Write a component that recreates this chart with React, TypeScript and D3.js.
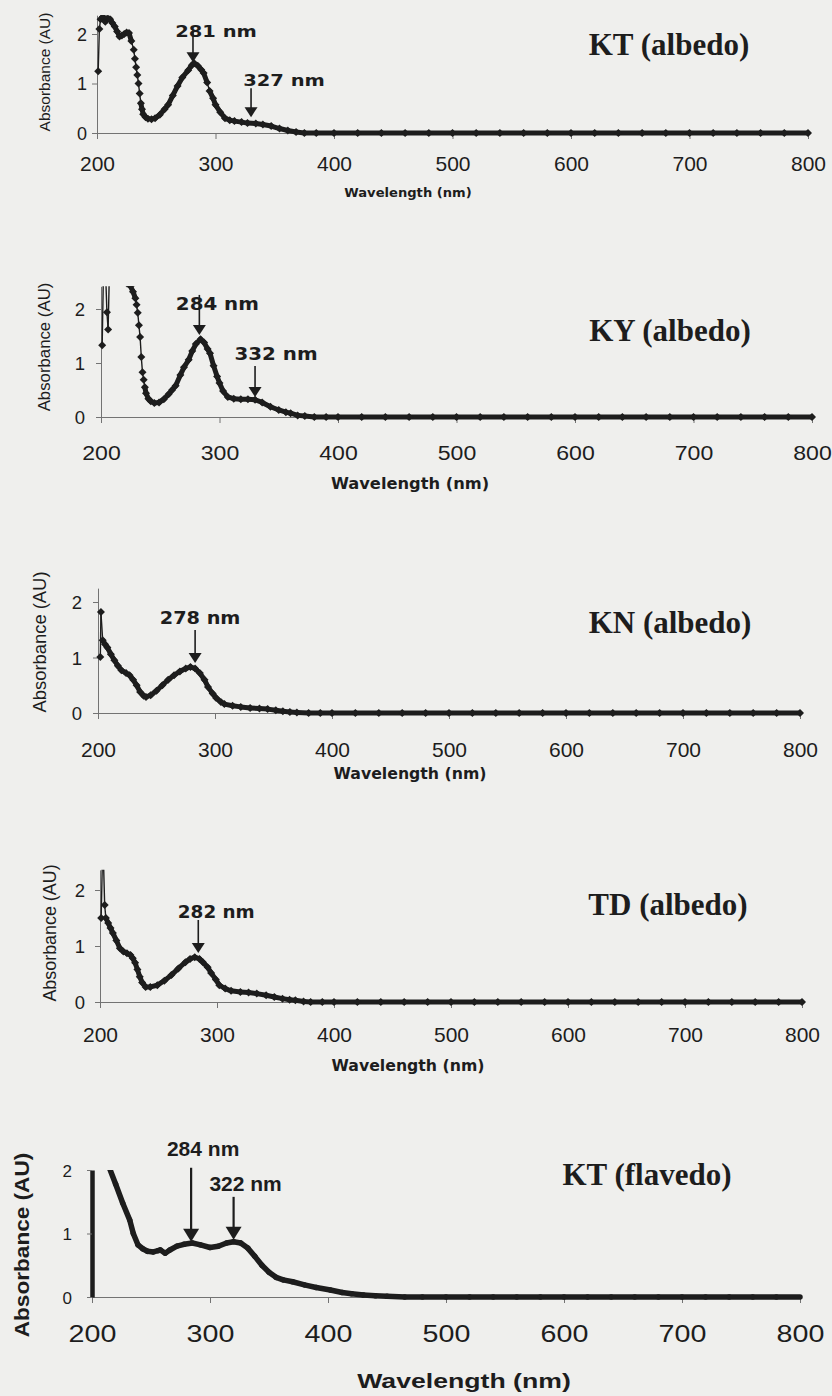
import React, { useEffect, useRef } from 'react';
import * as d3 from 'd3';

type Pt = [number, number];
interface Peak { at: number; label: string; tip: number }

// axis values
const X_TICKS = [200, 300, 400, 500, 600, 700, 800];
const Y_TICKS = [0, 1, 2];

// flat baseline shared by all spectra above ~400 nm
const BASELINE_TAIL: Pt[] = [
  [400, 0], [420, 0], [440, 0], [460, 0], [480, 0], [500, 0], [520, 0], [540, 0], [560, 0], [580, 0],
  [600, 0], [620, 0], [640, 0], [660, 0], [680, 0], [700, 0], [720, 0], [740, 0], [760, 0], [780, 0], [800, 0],
];

// spectra: [wavelength nm, absorbance AU]
const KT_ALBEDO: Pt[] = [
  [201, 1.25], [202, 2.1], [203, 2.3], [205, 2.35], [207, 2.25], [209, 2.32], [211, 2.3], [213, 2.22], [215, 2.15],
  [217, 2.05], [219, 1.95], [221, 1.97], [223, 2.0], [225, 2.03], [227, 2.02], [229, 1.86], [231, 1.68], [232, 1.5],
  [233, 1.33], [234, 1.17], [235, 1.0], [236, 0.8], [237, 0.6], [238, 0.48], [239, 0.38], [241, 0.32], [243, 0.29],
  [246, 0.28], [249, 0.3], [253, 0.37], [257, 0.48], [260, 0.57], [264, 0.76], [268, 0.95], [272, 1.12], [277, 1.27],
  [280, 1.37], [282, 1.41], [285, 1.36], [288, 1.28], [290, 1.21], [293, 1.02], [295, 0.85], [298, 0.7], [300, 0.57],
  [304, 0.42], [308, 0.3], [312, 0.26], [316, 0.24], [322, 0.22], [327, 0.2], [334, 0.19], [340, 0.17], [347, 0.14],
  [354, 0.09], [361, 0.05], [368, 0.02], [375, 0.0], [385, 0.0],
];
const KT_ALBEDO_PEAKS: Peak[] = [
  { at: 281, label: '281 nm', tip: 1.43 },
  { at: 330, label: '327 nm', tip: 0.32 },
];

const KY_ALBEDO: Pt[] = [
  [201, 1.33], [202, 2.6], [204, 2.6], [205, 1.94], [206, 1.62], [207, 2.6], [213, 2.6], [216, 2.55], [219, 2.5],
  [222, 2.47], [225, 2.42], [227, 2.32], [229, 2.2], [230, 2.08], [231, 1.93], [232, 1.7], [233, 1.48], [234, 1.11],
  [235, 0.83], [236, 0.69], [237, 0.55], [238, 0.44], [240, 0.34], [242, 0.29], [245, 0.26], [249, 0.27], [253, 0.33],
  [257, 0.42], [260, 0.5], [263, 0.58], [267, 0.78], [270, 0.92], [274, 1.06], [277, 1.22], [280, 1.35], [284, 1.44],
  [287, 1.38], [290, 1.26], [292, 1.18], [295, 0.95], [298, 0.75], [300, 0.63], [303, 0.48], [307, 0.37], [312, 0.34],
  [318, 0.33], [324, 0.33], [330, 0.32], [336, 0.27], [343, 0.19], [350, 0.13], [356, 0.09], [360, 0.07], [366, 0.03],
  [372, 0.02], [380, 0.0], [390, 0.0],
];
const KY_ALBEDO_PEAKS: Peak[] = [
  { at: 283, label: '284 nm', tip: 1.52 },
  { at: 330, label: '332 nm', tip: 0.37 },
];

const KN_ALBEDO: Pt[] = [
  [202, 1.01], [202.5, 1.82], [204, 1.31], [206, 1.24], [208, 1.18], [211, 1.06], [214, 0.95], [217, 0.85], [220, 0.77],
  [224, 0.72], [227, 0.68], [230, 0.6], [233, 0.5], [236, 0.38], [239, 0.31], [241, 0.29], [245, 0.32], [250, 0.4],
  [255, 0.5], [260, 0.6], [265, 0.68], [270, 0.75], [275, 0.8], [279, 0.83], [283, 0.8], [287, 0.72], [291, 0.6],
  [294, 0.47], [298, 0.35], [301, 0.27], [305, 0.2], [308, 0.16], [315, 0.13], [322, 0.11], [330, 0.09], [338, 0.08],
  [345, 0.07], [352, 0.05], [358, 0.03], [364, 0.02], [370, 0.01], [380, 0.0], [390, 0.0],
];
const KN_ALBEDO_PEAKS: Peak[] = [{ at: 283, label: '278 nm', tip: 0.9 }];

const TD_ALBEDO: Pt[] = [
  [201, 1.5], [202, 2.5], [203, 2.5], [204, 1.73], [205, 1.5], [207, 1.41], [209, 1.32], [211, 1.23], [214, 1.1],
  [217, 0.96], [220, 0.9], [223, 0.87], [226, 0.84], [228, 0.78], [230, 0.7], [232, 0.58], [234, 0.45], [236, 0.35],
  [239, 0.27], [243, 0.27], [249, 0.3], [255, 0.38], [261, 0.48], [267, 0.6], [273, 0.71], [277, 0.77], [281, 0.8],
  [285, 0.77], [288, 0.71], [292, 0.62], [295, 0.52], [299, 0.4], [302, 0.3], [307, 0.24], [312, 0.2], [320, 0.18],
  [327, 0.17], [334, 0.15], [342, 0.12], [349, 0.09], [356, 0.06], [362, 0.04], [367, 0.03], [374, 0.01], [380, 0.0],
  [390, 0.0],
];
const TD_ALBEDO_PEAKS: Peak[] = [{ at: 284, label: '282 nm', tip: 0.875 }];

const KT_FLAVEDO: Pt[] = [
  [215, 2.02], [220, 1.78], [226, 1.48], [232, 1.21], [235, 1.0], [239, 0.82], [243, 0.76], [247, 0.72], [252, 0.71],
  [256, 0.73], [258, 0.74], [262, 0.69], [266, 0.74], [272, 0.8], [278, 0.83], [285, 0.85], [292, 0.82], [300, 0.78],
  [307, 0.8], [314, 0.85], [320, 0.87], [326, 0.85], [332, 0.77], [338, 0.64], [344, 0.5], [350, 0.39], [356, 0.31],
  [362, 0.27], [370, 0.24], [380, 0.19], [390, 0.15], [402, 0.11], [412, 0.07], [420, 0.05], [430, 0.03], [440, 0.02],
  [450, 0.01], [465, 0.0],
];
const KT_FLAVEDO_PEAKS: Peak[] = [
  { at: 284, label: '284 nm', tip: 0.87 },
  { at: 320, label: '322 nm', tip: 0.9 },
];

const INK = '#1d1d1d';
const AXIS = '#737373';
const BG = '#efefed';
const SANS = '"Liberation Sans", Arial, sans-serif';
const WIDE = '"DejaVu Sans", Verdana, sans-serif';
const SERIF = '"Liberation Serif", "Times New Roman", serif';

// page layout of each panel (pixels)
const PANELS = [
  {
    title: 'KT (albedo)', data: KT_ALBEDO, peaks: KT_ALBEDO_PEAKS, markers: true,
    x0: 97, x1: 808, y0: 133, unit: 49.5, yMax: 2.38, yAxisW: 1,
    tick: { size: 20, sx: 1.05, y: 38 }, yTick: { size: 18, x: -10 },
    xLab: { x: 408, y: 197, size: 12.5, sx: 1.05, font: WIDE },
    yLab: { x: 50, y: 72, size: 15.5, sx: 1, weight: 'normal' },
    titlePos: { x: 669, y: 55 },
    annot: { size: 15, sx: 1.3, font: WIDE, hw: 13, hh: 10, sw: 1.6, items: [{ len: 32, dx: 23, dy: -25 }, { len: 29, dx: 33, dy: -31 }] },
  },
  {
    title: 'KY (albedo)', data: KY_ALBEDO, peaks: KY_ALBEDO_PEAKS, markers: true,
    x0: 101, x1: 812, y0: 417, unit: 54, yMax: 2.42, yAxisW: 1,
    tick: { size: 21, sx: 1.1, y: 43 }, yTick: { size: 18.5, x: -16 },
    xLab: { x: 410, y: 489, size: 15.5, sx: 1.05, font: WIDE },
    yLab: { x: 50, y: 347, size: 16.8, sx: 1, weight: 'normal' },
    titlePos: { x: 670, y: 341 },
    annot: { size: 17.4, sx: 1.14, font: WIDE, hw: 13, hh: 10, sw: 1.6, items: [{ len: 40, dx: 18, dy: -25 }, { len: 31, dx: 21, dy: -37 }] },
  },
  {
    title: 'KN (albedo)', data: KN_ALBEDO, peaks: KN_ALBEDO_PEAKS, markers: true,
    x0: 98, x1: 800, y0: 713, unit: 55.5, yMax: 2.25, yAxisW: 1,
    tick: { size: 20, sx: 1.05, y: 44 }, yTick: { size: 18.5, x: -16 },
    xLab: { x: 410, y: 779, size: 15, sx: 1.05, font: WIDE },
    yLab: { x: 46, y: 642, size: 18.4, sx: 1, weight: 'normal' },
    titlePos: { x: 670, y: 633 },
    annot: { size: 18, sx: 1.07, font: WIDE, hw: 13, hh: 10, sw: 1.6, items: [{ len: 33, dx: 5, dy: -39 }] },
  },
  {
    title: 'TD (albedo)', data: TD_ALBEDO, peaks: TD_ALBEDO_PEAKS, markers: true,
    x0: 100, x1: 802, y0: 1002, unit: 56, yMax: 2.36, yAxisW: 1,
    tick: { size: 20, sx: 1.05, y: 40 }, yTick: { size: 18.5, x: -15 },
    xLab: { x: 408, y: 1071, size: 15, sx: 1.05, font: WIDE },
    yLab: { x: 56, y: 933, size: 17.9, sx: 1, weight: 'normal' },
    titlePos: { x: 668, y: 915 },
    annot: { size: 18, sx: 1.02, font: WIDE, hw: 13, hh: 10, sw: 1.6, items: [{ len: 33, dx: 18, dy: -35 }] },
  },
  {
    title: 'KT (flavedo)', data: KT_FLAVEDO, peaks: KT_FLAVEDO_PEAKS, markers: false,
    x0: 92, x1: 800, y0: 1297, unit: 63.5, yMax: 2.0, yAxisW: 4.5,
    tick: { size: 23.7, sx: 1.21, y: 45 }, yTick: { size: 17, x: -20 },
    xLab: { x: 464, y: 1388, size: 20.5, sx: 1.3, font: SANS },
    yLab: { x: 29, y: 1245, size: 20, sx: 1.13, weight: 'bold' },
    titlePos: { x: 647, y: 1185 },
    annot: { size: 21, sx: 1, font: SANS, hw: 16, hh: 13, sw: 2.2, items: [{ len: 74, dx: 12, dy: -86 }, { len: 43, dx: 12, dy: -49 }] },
  },
];

const diamond = (r: number) => `M0,${-r}L${r},0L0,${r}L${-r},0Z`;

export default function App() {
  const svgRef = useRef<SVGSVGElement>(null);

  useEffect(() => {
    if (!svgRef.current) return;
    const svg = d3.select(svgRef.current);
    svg.selectAll('*').remove();

    PANELS.forEach((P, pi) => {
      const g = svg.append('g');
      const x = d3.scaleLinear().domain([200, 800]).range([P.x0, P.x1]);
      const y = d3.scaleLinear().domain([0, P.yMax]).range([P.y0, P.y0 - P.yMax * P.unit]);

      // x axis
      const xa = g.append('g').attr('transform', `translate(0,${P.y0})`)
        .call(d3.axisBottom(x).tickValues(X_TICKS).tickSize(6).tickSizeOuter(0).tickFormat(d3.format('d')));
      xa.select('.domain').attr('stroke', AXIS);
      xa.selectAll('.tick line').attr('stroke', AXIS);
      xa.selectAll('.tick text')
        .attr('y', P.tick.y).attr('dy', null)
        .attr('font-size', P.tick.size).attr('font-family', SANS).attr('fill', INK)
        .attr('transform', `scale(${P.tick.sx},1)`);

      // y axis
      const ya = g.append('g').attr('transform', `translate(${P.x0},0)`)
        .call(d3.axisLeft(y).tickValues(Y_TICKS).tickSize(5).tickSizeOuter(0).tickFormat(d3.format('d')));
      ya.select('.domain').attr('stroke', P.yAxisW > 1 ? INK : AXIS).attr('stroke-width', P.yAxisW);
      ya.selectAll('.tick line').attr('stroke', AXIS);
      ya.selectAll('.tick text')
        .attr('x', P.yTick.x).attr('dy', '0.36em')
        .attr('font-size', P.yTick.size).attr('font-family', SANS).attr('fill', INK);

      // spectrum
      const clipId = `clip-${pi}`;
      svg.append('clipPath').attr('id', clipId).append('rect')
        .attr('x', P.x0 - 8).attr('y', y(P.yMax))
        .attr('width', P.x1 - P.x0 + 16).attr('height', P.y0 - y(P.yMax) + 10);
      const dg = g.append('g').attr('clip-path', `url(#${clipId})`);
      const last = P.data[P.data.length - 1][0];
      const series: Pt[] = P.data.concat(BASELINE_TAIL.filter(d => d[0] > last));
      const thick = P.markers ? 5 : 5.5;
      for (let i = 1; i < series.length; i++) {
        const ax = x(series[i - 1][0]), ay = y(series[i - 1][1]);
        const bx = x(series[i][0]), by = y(series[i][1]);
        const dy = Math.abs(by - ay), dx = Math.abs(bx - ax);
        const steep = P.markers && dy > 6 && dy > 3.5 * dx;
        dg.append('line')
          .attr('x1', ax).attr('y1', ay).attr('x2', bx).attr('y2', by)
          .attr('stroke', INK).attr('stroke-width', steep ? 1.4 : thick)
          .attr('stroke-linecap', 'round');
      }
      if (P.markers) {
        dg.selectAll('path.mk').data(series).join('path')
          .attr('class', 'mk')
          .attr('d', diamond(4))
          .attr('transform', d => `translate(${x(d[0])},${y(d[1])})`)
          .attr('fill', INK);
      }

      // peak arrows
      P.peaks.forEach((pk, k) => {
        const A = P.annot.items[k];
        const px = x(pk.at), ty = y(pk.tip);
        g.append('line')
          .attr('x1', px).attr('x2', px).attr('y1', ty - A.len).attr('y2', ty - P.annot.hh + 1)
          .attr('stroke', INK).attr('stroke-width', P.annot.sw);
        g.append('path')
          .attr('d', `M${px - P.annot.hw / 2},${ty - P.annot.hh}L${px + P.annot.hw / 2},${ty - P.annot.hh}L${px},${ty}Z`)
          .attr('fill', INK);
        g.append('text')
          .attr('transform', `translate(${px + A.dx},${ty + A.dy}) scale(${P.annot.sx},1)`)
          .attr('text-anchor', 'middle').attr('font-family', P.annot.font).attr('font-weight', 'bold')
          .attr('font-size', P.annot.size).attr('fill', INK)
          .text(pk.label);
      });

      // axis titles
      g.append('text')
        .attr('transform', `translate(${P.xLab.x},${P.xLab.y}) scale(${P.xLab.sx},1)`)
        .attr('text-anchor', 'middle').attr('font-family', P.xLab.font).attr('font-weight', 'bold')
        .attr('font-size', P.xLab.size).attr('fill', INK)
        .text('Wavelength (nm)');
      g.append('text')
        .attr('transform', `translate(${P.yLab.x},${P.yLab.y}) rotate(-90) scale(${P.yLab.sx},1)`)
        .attr('text-anchor', 'middle').attr('font-family', SANS).attr('font-weight', P.yLab.weight)
        .attr('font-size', P.yLab.size).attr('fill', INK)
        .text('Absorbance (AU)');

      // sample title
      g.append('text')
        .attr('x', P.titlePos.x).attr('y', P.titlePos.y)
        .attr('text-anchor', 'middle').attr('font-family', SERIF).attr('font-weight', 'bold')
        .attr('font-size', 31).attr('fill', INK)
        .text(P.title);
    });
  }, []);

  return (
    <div style={{ position: 'absolute', left: 0, top: 0, width: 832, height: 1396, background: BG }}>
      <svg ref={svgRef} width={832} height={1396} style={{ display: 'block' }} />
    </div>
  );
}
